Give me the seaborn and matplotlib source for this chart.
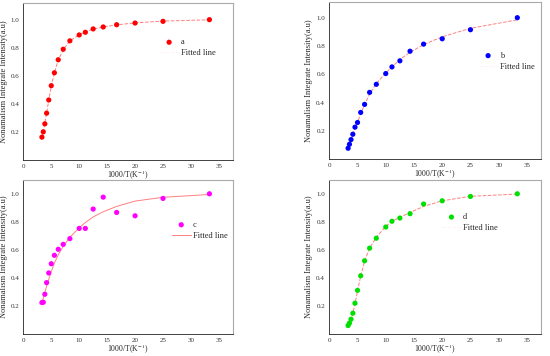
import seaborn as sns
import pandas as pd
import matplotlib.pyplot as plt

# 1000/T 값 (T = 300 ... 30 K)
x_vals = [3.33, 3.57, 3.85, 4.17, 4.55, 5.0, 5.56, 6.25, 7.14, 8.33,
          10.0, 11.1, 12.5, 14.3, 16.7, 20.0, 25.0, 33.3]

a_vals = [0.162, 0.200, 0.257, 0.333, 0.427, 0.529, 0.621, 0.714, 0.789, 0.849,
          0.891, 0.910, 0.934, 0.948, 0.964, 0.976, 0.988, 1.000]
b_vals = [0.077, 0.105, 0.138, 0.176, 0.226, 0.259, 0.330, 0.387, 0.472, 0.529,
          0.605, 0.652, 0.695, 0.763, 0.813, 0.851, 0.915, 1.000]
c_vals = [0.224, 0.226, 0.283, 0.366, 0.435, 0.501, 0.561, 0.604, 0.639, 0.680,
          0.753, 0.753, 0.891, 0.976, 0.867, 0.843, 0.967, 1.000]
d_vals = [0.060, 0.077, 0.105, 0.148, 0.219, 0.311, 0.415, 0.522, 0.612, 0.683,
          0.763, 0.804, 0.827, 0.858, 0.927, 0.950, 0.981, 1.000]

# 피팅 곡선
a_fit = [0.160, 0.205, 0.262, 0.335, 0.425, 0.525, 0.620, 0.712, 0.787, 0.848,
         0.893, 0.913, 0.932, 0.948, 0.963, 0.977, 0.990, 0.999]
b_fit = [0.070, 0.100, 0.135, 0.175, 0.215, 0.262, 0.320, 0.385, 0.460, 0.535,
         0.610, 0.650, 0.705, 0.755, 0.810, 0.865, 0.925, 0.985]
c_fit = [0.220, 0.255, 0.295, 0.340, 0.390, 0.445, 0.505, 0.565, 0.625, 0.690,
         0.758, 0.795, 0.835, 0.872, 0.910, 0.948, 0.975, 0.995]
d_fit = [0.058, 0.078, 0.105, 0.148, 0.215, 0.305, 0.412, 0.520, 0.612, 0.690,
         0.768, 0.803, 0.832, 0.866, 0.910, 0.950, 0.982, 0.998]

# (이름, 값, 피팅, 색, 축 위치, y범위, 선 스타일, 범례 위치)
panels = [
    ('a', a_vals, a_fit, '#ff0000', (0.0424, 0.551, 0.381, 0.441), (0, 1.12), '--', (0.63, 0.80)),
    ('b', b_vals, b_fit, '#0000ff', (0.5987, 0.553, 0.385, 0.441), (0, 1.11), '--', (0.685, 0.71)),
    ('c', c_vals, c_fit, '#ff00ff', (0.0424, 0.062, 0.381, 0.433), (0, 1.10), '-', (0.688, 0.76)),
    ('d', d_vals, d_fit, '#00e000', (0.5987, 0.062, 0.385, 0.433), (0, 1.10), '--', (0.512, 0.81)),
]

sns.set_style('white')
plt.rcParams['font.family'] = ['Liberation Serif', 'DejaVu Serif']
plt.rcParams['mathtext.fontset'] = 'stix'

fig = plt.figure(figsize=(5.5, 3.56), dpi=100)

for name, vals, fit, color, pos, ylim, ls, leg_pos in panels:
    ax = fig.add_axes(pos)
    df = pd.DataFrame({'x': x_vals, 'y': vals, 'fit': fit})
    sns.lineplot(data=df, x='x', y='fit', ax=ax, color='#ff8080', lw=0.7,
                 linestyle=ls, label='Fitted line', legend=False, zorder=1)
    sns.scatterplot(data=df, x='x', y='y', ax=ax, color=color, s=14,
                    edgecolor='none', label=name, legend=False, zorder=2)
    ax.set_xlim(0, 37.5)
    ax.set_ylim(*ylim)
    ax.set_xticks([0, 5, 10, 15, 20, 25, 30, 35])
    ax.set_yticks([0.2, 0.4, 0.6, 0.8, 1.0])
    ax.set_xticklabels(['0', '5', '10', '15', '20', '25', '30', '35'])
    ax.set_yticklabels(['0.2', '0.4', '0.6', '0.8', '1.0'])
    ax.tick_params(labelsize=5, length=2, width=0.5, pad=1, colors='#333333')
    ax.set_xlabel('1000/T(K$^{-1}$)', fontsize=5.6, labelpad=0)
    ax.set_ylabel('Nonamalism Integrate Intensity(a.u)', fontsize=6, labelpad=2)
    for side in ['left', 'bottom']:
        ax.spines[side].set_color('#222222')
        ax.spines[side].set_linewidth(0.6)
    for side in ['top', 'right']:
        ax.spines[side].set_color('#aaaaaa')
        ax.spines[side].set_linewidth(0.8)
    h, l = ax.get_legend_handles_labels()
    leg = ax.legend(h[::-1], l[::-1], loc='upper left', bbox_to_anchor=leg_pos,
                    frameon=False, fontsize=6, handlelength=2.3, handletextpad=0.25,
                    labelspacing=0.33, borderpad=0)
    if ls == '--':
        # 점선 패널은 범례의 선 샘플이 거의 보이지 않음
        leg.get_lines()[-1].set_alpha(0.1)

plt.savefig('out.png', dpi=100)
